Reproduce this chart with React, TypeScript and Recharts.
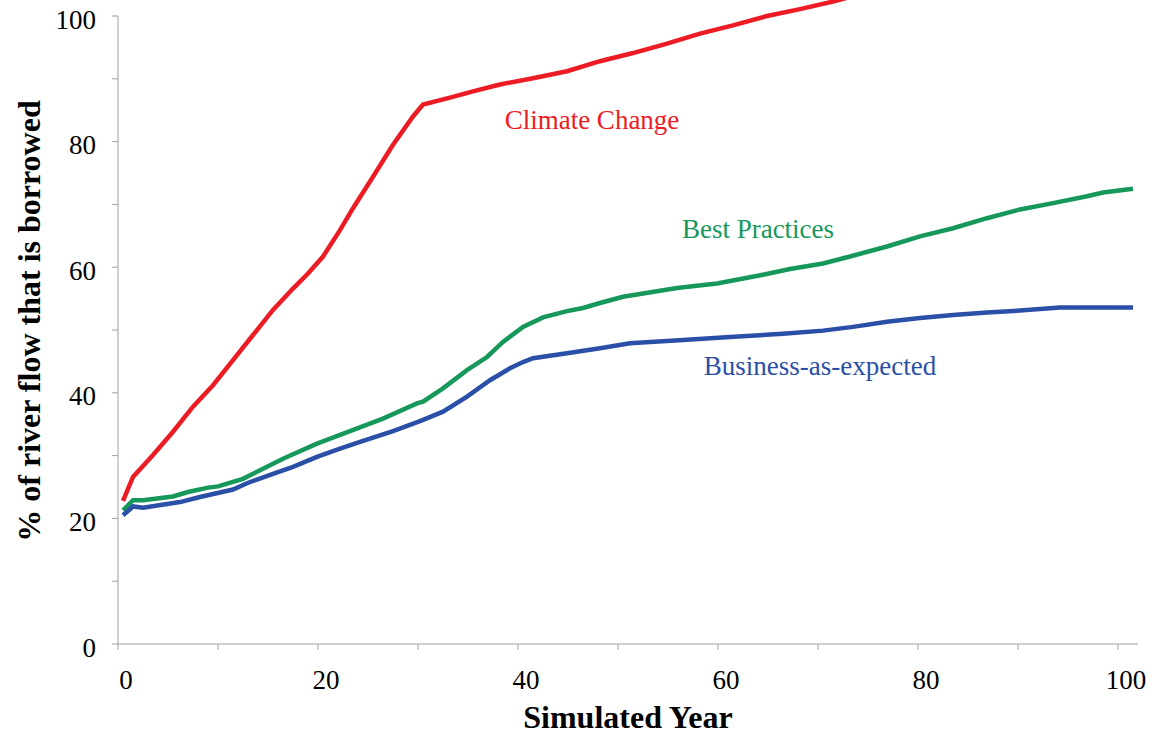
import { LineChart, Line, XAxis, YAxis, ReferenceDot } from 'recharts';

// Climate Change (red) – readings
const climateYears = [0.5, 1.5, 3.5, 5.5, 7.5, 9.5, 11.5, 13.5, 15.5, 17.5, 19, 20.5, 22.2, 23.5, 25.5, 27.5, 29.5, 30.5, 33.2, 35.5, 38.2, 41.5, 44.9, 48.2, 51.5, 54.9, 58.2, 61.5, 64.9, 68.2, 71.5, 75];
const climateValues = [22.8, 26.6, 30.1, 33.8, 37.8, 41.2, 45.2, 49.2, 53.2, 56.6, 59.0, 61.7, 65.9, 69.4, 74.4, 79.5, 84.0, 85.9, 87.0, 88.0, 89.1, 90.1, 91.2, 92.8, 94.1, 95.6, 97.2, 98.5, 100.0, 101.1, 102.3, 103.8];

// Best Practices (green)
const bestYears = [0.5, 1.5, 2.5, 5.5, 7, 9, 10, 12.5, 15.5, 16.5, 19.9, 23.2, 26.5, 29.9, 30.5, 32.5, 34.9, 36.9, 38.5, 40.5, 42.5, 44.9, 46.5, 48.2, 50.5, 55.9, 59.9, 64.5, 67.2, 70.5, 73.2, 76.9, 80.2, 83.5, 86.9, 90.2, 93.5, 96.9, 98.5, 101.5];
const bestValues = [21.3, 22.9, 22.9, 23.5, 24.2, 24.9, 25.1, 26.3, 28.7, 29.5, 31.9, 33.9, 35.9, 38.3, 38.6, 40.7, 43.6, 45.7, 48.1, 50.5, 52.0, 53.0, 53.5, 54.3, 55.3, 56.7, 57.4, 58.8, 59.7, 60.6, 61.7, 63.3, 64.9, 66.2, 67.8, 69.2, 70.2, 71.3, 71.9, 72.5];

// Business-as-expected (blue)
const businessYears = [0.5, 1.5, 2.5, 6.2, 8.2, 11.5, 12.9, 15.5, 17.5, 19.9, 22.2, 24.2, 27.5, 30.2, 32.5, 34.9, 37.2, 39.2, 40.5, 41.5, 44.9, 48.2, 51.2, 56.5, 61.2, 66.5, 70.5, 73.5, 76.9, 80.2, 83.5, 86.9, 90.2, 94.2, 101.5];
const businessValues = [20.5, 21.9, 21.7, 22.6, 23.4, 24.6, 25.6, 27.1, 28.2, 29.8, 31.1, 32.2, 33.9, 35.5, 37.0, 39.4, 42.0, 43.9, 44.9, 45.5, 46.3, 47.1, 47.9, 48.4, 48.9, 49.4, 49.9, 50.5, 51.3, 51.9, 52.4, 52.8, 53.1, 53.6, 53.6];

const xTicks = [0, 10, 20, 30, 40, 50, 60, 70, 80, 90, 100];
const yTicks = [0, 10, 20, 30, 40, 50, 60, 70, 80, 90, 100];

const RED = '#ED1C24';
const GREEN = '#16985A';
const BLUE = '#2A4FA6';
const AXIS = '#A0A0A0';
const FONT = '"Liberation Serif", "Times New Roman", serif';

const toRows = (years: number[], values: number[]) =>
  years.map((year, i) => ({ year, value: values[i] }));

const climateData = toRows(climateYears, climateValues);
const bestData = toRows(bestYears, bestValues);
const businessData = toRows(businessYears, businessValues);

const everyOther = (v: number) => (v % 20 === 0 ? String(v) : '');

export default function App() {
  return (
    <div style={{ position: 'absolute', left: 0, top: 0, width: 1154, height: 734, background: '#fff' }}>
      {/* let the red line run past the 100 gridline like the original */}
      <style>{`.recharts-line, .recharts-line * { clip-path: none !important; }`}</style>
      <LineChart width={1154} height={734} margin={{ top: 16, right: 16, left: 0, bottom: 0 }}>
        <XAxis
          type="number"
          dataKey="year"
          domain={[0, 102]}
          ticks={xTicks}
          tickFormatter={everyOther}
          allowDataOverflow
          height={90}
          stroke={AXIS}
          tickSize={6}
          tickMargin={20}
          tick={{ fontSize: 27, fill: '#000', fontFamily: FONT, dx: 8 }}
          label={{
            value: 'Simulated Year',
            position: 'insideBottom',
            offset: 6,
            style: { fontSize: 32, fontWeight: 'bold', fill: '#000', fontFamily: FONT },
          }}
        />
        <YAxis
          type="number"
          domain={[0, 100]}
          ticks={yTicks}
          tickFormatter={everyOther}
          allowDataOverflow
          width={118}
          stroke={AXIS}
          tickSize={6}
          tickMargin={16}
          tick={{ fontSize: 27, fill: '#000', fontFamily: FONT, dy: 3 }}
          label={{
            content: (props: any) => {
              const vb = props.viewBox || { x: 0, y: 16, width: 118, height: 628 };
              const cx = vb.x + 29;
              const cy = vb.y + vb.height / 2 - 9;
              return (
                <text
                  x={cx}
                  y={cy}
                  transform={`rotate(-90 ${cx} ${cy})`}
                  textAnchor="middle"
                  dominantBaseline="central"
                  style={{ fontSize: 32, fontWeight: 'bold', fill: '#000', fontFamily: FONT }}
                >
                  % of river flow that is borrowed
                </text>
              );
            },
          }}
        />
        <Line data={climateData} dataKey="value" type="linear" stroke={RED} strokeWidth={4.5} dot={false} isAnimationActive={false} />
        <Line data={bestData} dataKey="value" type="linear" stroke={GREEN} strokeWidth={4.5} dot={false} isAnimationActive={false} />
        <Line data={businessData} dataKey="value" type="linear" stroke={BLUE} strokeWidth={4.5} dot={false} isAnimationActive={false} />

        <ReferenceDot x={47.4} y={83.5} r={1} fill="none" stroke="none"
          label={{ value: 'Climate Change', position: 'center', fill: RED, fontSize: 27, fontFamily: FONT }} />
        <ReferenceDot x={64} y={66.1} r={1} fill="none" stroke="none"
          label={{ value: 'Best Practices', position: 'center', fill: GREEN, fontSize: 27, fontFamily: FONT }} />
        <ReferenceDot x={70.2} y={44.4} r={1} fill="none" stroke="none"
          label={{ value: 'Business-as-expected', position: 'center', fill: BLUE, fontSize: 27, fontFamily: FONT }} />
      </LineChart>
    </div>
  );
}
